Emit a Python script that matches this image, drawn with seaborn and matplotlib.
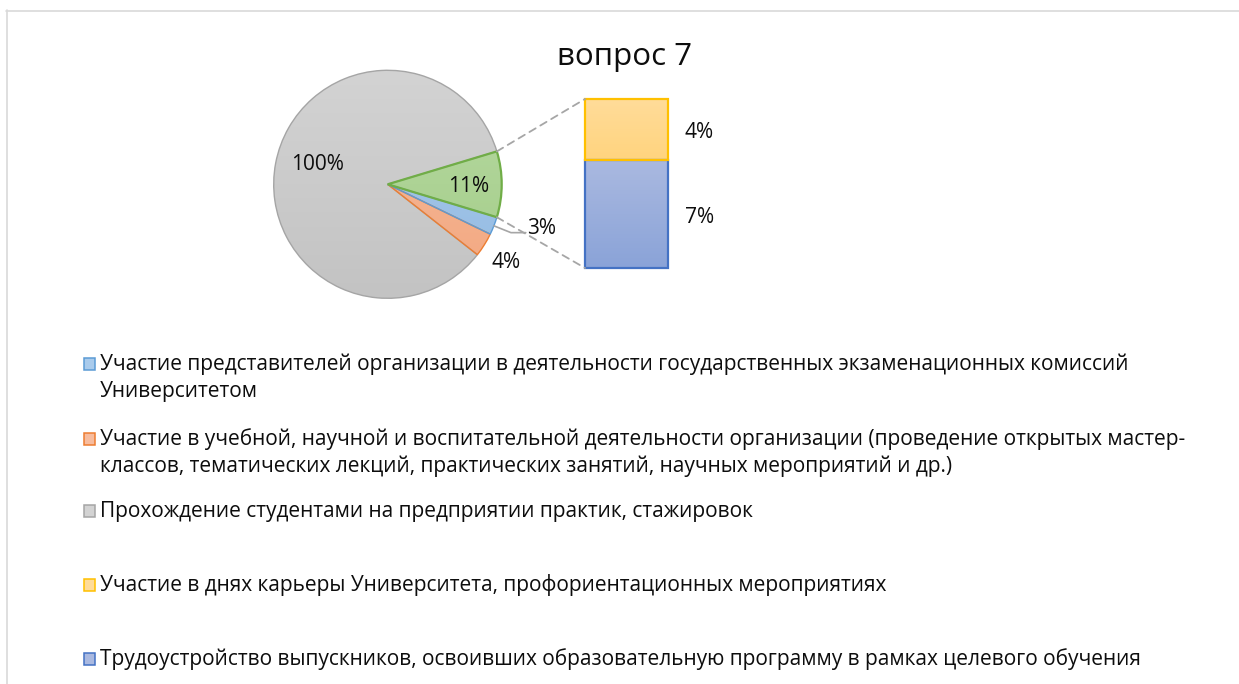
import numpy as np
import matplotlib
matplotlib.use("Agg")
import matplotlib.pyplot as plt
import seaborn as sns
from matplotlib.patches import Rectangle, ConnectionPatch
from matplotlib.lines import Line2D
from matplotlib.colors import LinearSegmentedColormap

# ---------------- data ----------------
chart_title = "вопрос 7"
pie_categories = [
    "Участие представителей организации в деятельности государственных экзаменационных комиссий\nУниверситетом",
    "Участие в учебной, научной и воспитательной деятельности организации (проведение открытых мастер-\nклассов, тематических лекций, практических занятий, научных мероприятий и др.)",
    "Прохождение студентами на предприятии практик, стажировок",
]
pie_values = [3, 4, 100]
bar_categories = [
    "Участие в днях карьеры Университета, профориентационных мероприятиях",
    "Трудоустройство выпускников, освоивших образовательную программу в рамках целевого обучения",
]
bar_values = [4, 7]
other_value = sum(bar_values)  # "other" slice of the pie-of-bar chart

# ---------------- style ----------------
sns.set_theme(style="white")
plt.rcParams['font.family'] = ['Open Sans', 'DejaVu Sans']
TXT = '#0d0d0d'

pie_fill = {  # (top colour, bottom colour, edge colour)
    0: ('#A9CBEC', '#93BAE2', '#5B9BD5'),   # blue
    1: ('#F7BC9E', '#F2A77F', '#ED7D31'),   # orange
    2: ('#D3D3D3', '#C3C3C3', '#A5A5A5'),   # gray
}
other_fill = ('#B7D9A2', '#A3CD88', '#70AD47')
bar_fill = [
    ('#8AA3D8', '#AAB9E0', '#4472C4'),   # blue bar (bottom, top, edge)
    ('#FFD47E', '#FFDC9A', '#FFC000'),   # yellow bar
]

W, H = 1239, 684
fig = plt.figure(figsize=(W / 100, H / 100), dpi=100)
fig.patch.set_facecolor('white')

def fx(px):
    return px / W

def fy(py):
    return 1 - py / H

# frame lines of the chart area
fig.add_artist(Line2D([fx(6), 1], [fy(10.5), fy(10.5)], transform=fig.transFigure,
                      color='#D9D9D9', lw=1.2))
fig.add_artist(Line2D([fx(6.5), fx(6.5)], [fy(10), 0], transform=fig.transFigure,
                      color='#D9D9D9', lw=1.2))

def gradient_fill(ax, patch, top, bottom, extent):
    cmap = LinearSegmentedColormap.from_list('g', [bottom, top])
    grad = np.linspace(0, 1, 256).reshape(-1, 1)
    im = ax.imshow(grad, cmap=cmap, origin='lower', extent=extent,
                   aspect='auto', zorder=patch.get_zorder() - 0.5, interpolation='bilinear')
    im.set_clip_path(patch)
    return im

# ---------------- pie ----------------
cx, cy, R = 387.7, 184.3, 114
ax_pie = fig.add_axes([fx(cx - R), fy(cy + R), fx(2 * R), 2 * R / H])

wedge_values = [other_value] + pie_values[::-1]          # green, gray, orange, blue
wedge_styles = [other_fill] + [pie_fill[i] for i in (2, 1, 0)]
total = sum(wedge_values)
start = -other_value / total * 180.0

wedges, _ = ax_pie.pie(wedge_values, startangle=start, counterclock=True,
                       colors=['none'] * 4, radius=1,
                       wedgeprops=dict(linewidth=1.0))
for w, (top, bot, edge) in zip(wedges, wedge_styles):
    w.set_edgecolor(edge)
    w.set_zorder(3)
    w.set_linewidth(1.6 if edge == '#70AD47' else 1.0)
    gradient_fill(ax_pie, w, top, bot, [-1, 1, -1, 1])
wedges[0].set_zorder(3.5)
ax_pie.set_xlim(-1, 1)
ax_pie.set_ylim(-1, 1)
ax_pie.set_aspect('equal')
ax_pie.axis('off')

def mid(w):
    return np.deg2rad((w.theta1 + w.theta2) / 2)

lab_kw = dict(fontsize=15, color=TXT)
w_other, w_gray, w_orange, w_blue = wedges
# gray (100%)
m = mid(w_gray)
ax_pie.text(0.63 * np.cos(m), 0.63 * np.sin(m) + 0.06, f"{pie_values[2]}%", ha='center', va='center', **lab_kw)
# other (11%)
m = mid(w_other)
ax_pie.text(0.71 * np.cos(m), 0.71 * np.sin(m) - 0.015, f"{other_value}%", ha='center', va='center', **lab_kw)
# orange (4%)
m = mid(w_orange)
ax_pie.text(1.22 * np.cos(m), 1.22 * np.sin(m) - 0.035, f"{pie_values[1]}%", ha='center', va='center',
            clip_on=False, **lab_kw)
# blue (3%) with leader line
m = mid(w_blue)
p0 = np.array([np.cos(m), np.sin(m)])
p1 = p0 + np.array([0.15, -0.06])
p2 = p1 + np.array([0.13, 0.0])
ax_pie.add_line(Line2D([p0[0], p1[0], p2[0]], [p0[1], p1[1], p2[1]], color='#A6A6A6',
                       lw=1.2, clip_on=False, zorder=4))
ax_pie.text(p2[0] + 0.01, p2[1] + 0.04, f"{pie_values[0]}%", ha='left', va='center',
            clip_on=False, **lab_kw)

# ---------------- bar ----------------
bx0, bx1, by0, by1 = 585, 668, 99, 268
ax_bar = fig.add_axes([fx(bx0), fy(by1), fx(bx1 - bx0), (by1 - by0) / H])
bottom = 0
order = [1, 0]  # stack: target-learning (7) at bottom, career days (4) on top
for idx, k in enumerate(order):
    v = bar_values[k]
    b0, t0, edge = bar_fill[idx]
    bars = ax_bar.bar([0], [v], bottom=bottom, width=1.0, color='none',
                      edgecolor=edge, linewidth=1.6, zorder=3, clip_on=False)
    gradient_fill(ax_bar, bars[0], t0, b0, [-0.5, 0.5, bottom, bottom + v])
    ax_bar.annotate(f"{v}%", xy=(0.5, bottom + v / 2), xytext=(12, -2.2),
                    textcoords='offset points', ha='left', va='center',
                    annotation_clip=False, **lab_kw)
    bottom += v
ax_bar.set_xlim(-0.5, 0.5)
ax_bar.set_ylim(0, bottom)
ax_bar.axis('off')

# connectors
for ang, yb in ((w_other.theta2, bottom), (w_other.theta1, 0)):
    a = np.deg2rad(ang)
    con = ConnectionPatch(xyA=(np.cos(a), np.sin(a)), coordsA=ax_pie.transData,
                          xyB=(-0.5, yb), coordsB=ax_bar.transData,
                          color='#A6A6A6', lw=1.3, linestyle=(0, (4, 3)))
    fig.add_artist(con)

# ---------------- title ----------------
fig.text(fx(625), fy(57), chart_title, ha='center', va='center', fontsize=22.5, color=TXT)

# ---------------- legend ----------------
legend_items = [
    (pie_categories[0], pie_fill[0]),
    (pie_categories[1], pie_fill[1]),
    (pie_categories[2], pie_fill[2]),
    (bar_categories[0], ('#FFDC9A', '#FFD47E', '#FFC000')),
    (bar_categories[1], ('#AAB9E0', '#8AA3D8', '#4472C4')),
]
baselines = [370, 445, 517, 591, 665]
line_gap = 27
leg_fs = 15.05
for (label, (top, bot, edge)), yb in zip(legend_items, baselines):
    fig.add_artist(Rectangle((fx(83.5), fy(yb - 0.5)), fx(11.5), 11.5 / H, transform=fig.transFigure,
                             facecolor=top, edgecolor=edge, lw=1.1))
    for i, line in enumerate(label.split('\n')):
        fig.text(fx(99.5), fy(yb + i * line_gap), line, ha='left', va='baseline',
                 fontsize=leg_fs, color=TXT)

fig.savefig('out.png', dpi=100, facecolor='white')
